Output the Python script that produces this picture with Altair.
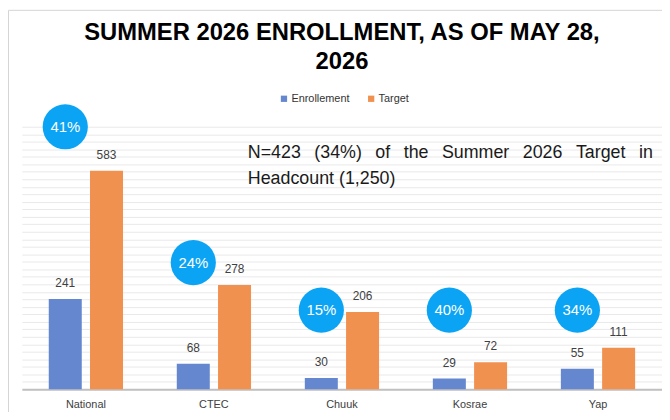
import altair as alt
import pandas as pd

categories = ["National", "CTEC", "Chuuk", "Kosrae", "Yap"]
enrollment = [241, 68, 30, 29, 55]
target = [583, 278, 206, 72, 111]
pct_labels = ["41%", "24%", "15%", "40%", "34%"]
badge_level = [700, 338, 211, 211, 211]
series_names = ["Enrollement", "Target"]
title_lines = ["SUMMER 2026 ENROLLMENT, AS OF MAY 28,", "2026"]
GAP = "\u00a0\u00a0\u2009"
note_words = ["N=423", "(34%)", "of", "the", "Summer", "2026", "Target", "in"]
note_lines = [GAP.join(note_words), "Headcount (1,250)"]

rows = []
for c, e, t in zip(categories, enrollment, target):
    rows.append({"cat": c, "series": series_names[0], "value": e})
    rows.append({"cat": c, "series": series_names[1], "value": t})
bars_df = pd.DataFrame(rows)
badge_df = pd.DataFrame({"cat": categories, "series": series_names[0],
                         "level": badge_level, "pct": pct_labels})

FONT = "Liberation Sans"
NARROW = "'Liberation Sans Narrow', 'Liberation Sans', sans-serif"

xscale = alt.Scale(paddingInner=0.42, paddingOuter=0.21)
xaxis = alt.Axis(labelAngle=0, labelFont=FONT, labelFontSize=11, labelColor="#404040",
                 domainColor="#c0c0c0", domainWidth=2, ticks=False, labelPadding=9,
                 grid=False, title=None)
yscale = alt.Scale(domain=[0, 700], nice=False)
yaxis = alt.Axis(values=list(range(0, 701, 20)), labels=False, ticks=False, domain=False,
                 title=None, grid=True, gridColor="#e9e9e9", gridWidth=1)


def X():
    return alt.X("cat:N", sort=categories, scale=xscale, axis=xaxis)


def XO():
    return alt.XOffset("series:N", sort=series_names,
                       scale=alt.Scale(paddingInner=0.2, paddingOuter=0))


def Y(field):
    return alt.Y(field, type="quantitative", scale=yscale, axis=yaxis)


bars = alt.Chart(bars_df).mark_bar().encode(
    x=X(), xOffset=XO(), y=Y("value"),
    color=alt.Color("series:N", sort=series_names,
                    scale=alt.Scale(domain=series_names, range=["#6487d0", "#f19150"]),
                    legend=alt.Legend(title=None, orient="none", legendX=259, legendY=-34,
                                      direction="horizontal", symbolType="square", symbolSize=40,
                                      symbolStrokeWidth=0, labelFont=NARROW, labelFontSize=11,
                                      labelColor="#333333", columnPadding=16, labelOffset=2)),
)

vlabels = alt.Chart(bars_df).mark_text(baseline="bottom", dy=-9, font=FONT, fontSize=12,
                                       color="#404040").encode(
    x=X(), xOffset=XO(), y=Y("value"), text="value:Q")

badges = alt.Chart(badge_df).mark_circle(size=2080, opacity=1, color="#0ba4f5").encode(
    x=X(), xOffset=XO(), y=Y("level"))

badge_text = alt.Chart(badge_df).mark_text(font=FONT, fontSize=15, color="white").encode(
    x=X(), xOffset=XO(), y=Y("level"), text="pct:N")

note = alt.Chart(pd.DataFrame({"t": [0]})).mark_text(
    align="left", baseline="alphabetic", font=FONT, fontSize=18, color="#1a1a1a",
    lineHeight=26).encode(x=alt.value(228), y=alt.value(32), text=alt.value(note_lines))

frame_left = alt.Chart(pd.DataFrame({"t": [0]})).mark_rule(
    color="#d4d4d4", strokeWidth=1).encode(
    x=alt.value(-13.5), y=alt.value(-117.5), y2=alt.value(400))

frame_top = alt.Chart(pd.DataFrame({"t": [0]})).mark_rule(
    color="#d4d4d4", strokeWidth=1).encode(
    x=alt.value(-13.5), x2=alt.value(760), y=alt.value(-117.5))

chart = alt.layer(frame_left, frame_top, bars, vlabels, badges, badge_text, note).properties(
    width=646, height=265,
    background="white",
    autosize=alt.AutoSizeParams(type="none"),
    padding={"left": 14, "top": 118, "right": 0, "bottom": 21},
    title=alt.Title(title_lines, font=FONT, fontSize=24, fontWeight="bold", color="#000000",
                    lineHeight=30, anchor="middle", offset=-65),
).configure_view(strokeWidth=0, stroke="transparent")

chart.save("out.html", embed_options={"renderer": "svg", "actions": False})
